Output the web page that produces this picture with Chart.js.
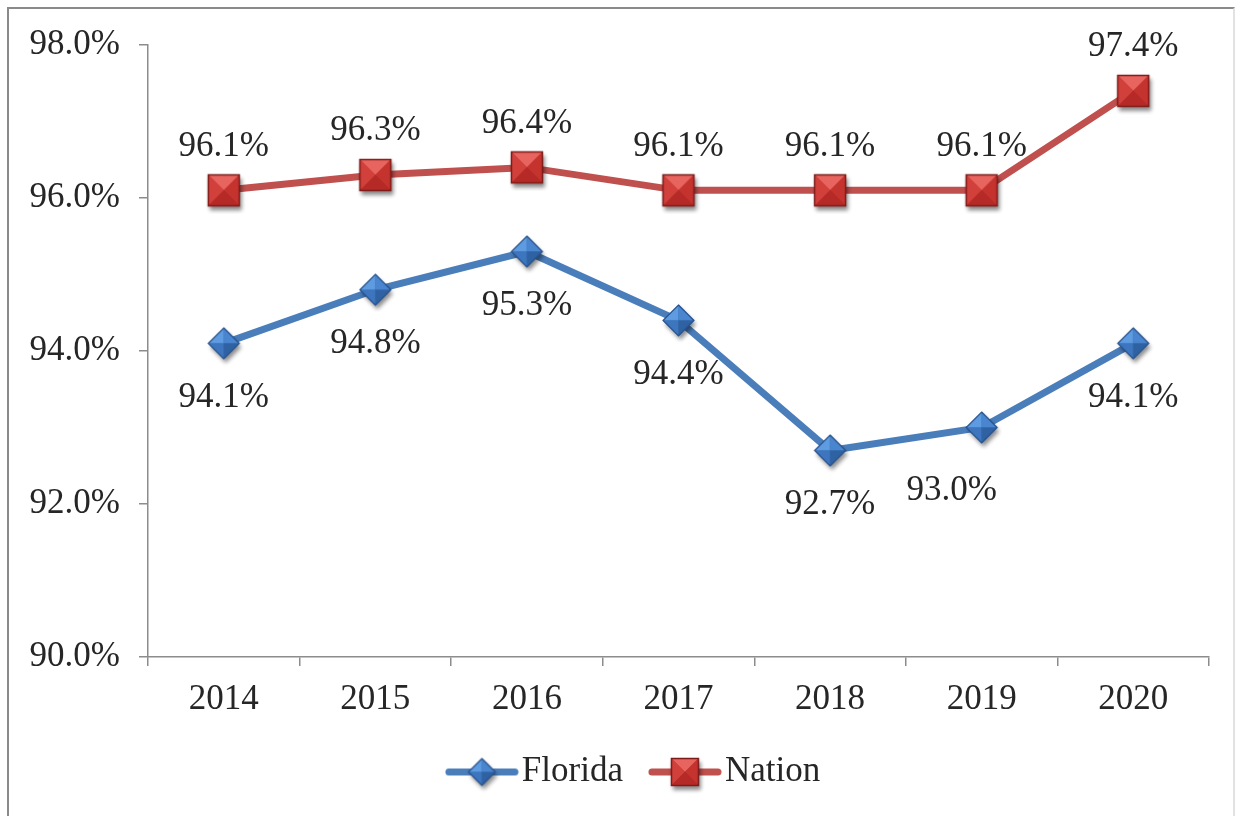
<!DOCTYPE html>
<html>
<head>
<meta charset="utf-8">
<script src="https://cdn.jsdelivr.net/npm/chart.js@4.4.1/dist/chart.umd.min.js"></script>
<style>
    html, body { margin: 0; padding: 0; background: #fff; }
    #wrap { position: relative; width: 1241px; height: 816px; overflow: hidden; }
    #frame {
        position: absolute; left: 7px; top: 7px; width: 1228px; height: 830px;
        border: 2px solid #8a8a8a; border-right-color: #e2e2e2; box-sizing: border-box;
    }
    #chart { position: absolute; left: 0; top: 0; }
</style>
</head>
<body>
<div id="wrap">
    <div id="frame"></div>
    <canvas id="chart" width="1241" height="816"></canvas>
</div>
<script>
// data
const years = ['2014', '2015', '2016', '2017', '2018', '2019', '2020'];
const florida = [94.1, 94.8, 95.3, 94.4, 92.7, 93.0, 94.1];
const nation = [96.1, 96.3, 96.4, 96.1, 96.1, 96.1, 97.4];
const yTicks = [90, 92, 94, 96, 98];

const FONT = '"Liberation Serif", "Times New Roman", serif';
const TEXT = '#262626';
const BLUE = '#4a7ebb';
const RED = '#c0504d';

// beveled marker images, like the old office charts
function makeSquare(size) {
    const pad = 8;
    const c = document.createElement('canvas');
    c.width = c.height = size + pad * 2;
    const g = c.getContext('2d');
    const x0 = pad, y0 = pad, x1 = pad + size, y1 = pad + size;
    const cx = pad + size / 2, cy = pad + size / 2;
    g.save();
    g.shadowColor = 'rgba(0,0,0,0.45)';
    g.shadowBlur = 4;
    g.shadowOffsetX = 2;
    g.shadowOffsetY = 4;
    g.fillStyle = '#a82421';
    g.fillRect(x0, y0, size, size);
    g.restore();
    const tri = (pts, col) => {
        g.beginPath();
        g.moveTo(pts[0], pts[1]);
        g.lineTo(pts[2], pts[3]);
        g.lineTo(pts[4], pts[5]);
        g.closePath();
        g.fillStyle = col;
        g.fill();
    };
    tri([x0, y0, x1, y0, cx, cy], '#e8645f');
    tri([x0, y0, x0, y1, cx, cy], '#d2403b');
    tri([x1, y0, x1, y1, cx, cy], '#c5332f');
    tri([x0, y1, x1, y1, cx, cy], '#b52a26');
    g.strokeStyle = '#7d1b19';
    g.lineWidth = 1.5;
    g.strokeRect(x0 + 0.5, y0 + 0.5, size - 1, size - 1);
    return c;
}

function makeDiamond(size) {
    const pad = 8;
    const c = document.createElement('canvas');
    c.width = c.height = size + pad * 2;
    const g = c.getContext('2d');
    const cx = pad + size / 2, cy = pad + size / 2, r = size / 2;
    const path = () => {
        g.beginPath();
        g.moveTo(cx, cy - r);
        g.lineTo(cx + r, cy);
        g.lineTo(cx, cy + r);
        g.lineTo(cx - r, cy);
        g.closePath();
    };
    g.save();
    g.shadowColor = 'rgba(0,0,0,0.45)';
    g.shadowBlur = 4;
    g.shadowOffsetX = 2;
    g.shadowOffsetY = 4;
    path();
    g.fillStyle = '#3569a8';
    g.fill();
    g.restore();
    const tri = (ax, ay, bx, by, col) => {
        g.beginPath();
        g.moveTo(ax, ay);
        g.lineTo(bx, by);
        g.lineTo(cx, cy);
        g.closePath();
        g.fillStyle = col;
        g.fill();
    };
    tri(cx - r, cy, cx, cy - r, '#5f9be0');
    tri(cx, cy - r, cx + r, cy, '#4a86cf');
    tri(cx - r, cy, cx, cy + r, '#3d76be');
    tri(cx, cy + r, cx + r, cy, '#2f62a3');
    path();
    g.strokeStyle = '#28508a';
    g.lineWidth = 1.2;
    g.stroke();
    return c;
}

function makeLegendIcon(color, marker) {
    const w = 74, h = marker.height;
    const c = document.createElement('canvas');
    c.width = w;
    c.height = h;
    const g = c.getContext('2d');
    g.strokeStyle = color;
    g.lineWidth = 7;
    g.lineCap = 'round';
    g.beginPath();
    g.moveTo(4, h / 2);
    g.lineTo(w - 4, h / 2);
    g.stroke();
    g.drawImage(marker, (w - marker.width) / 2, 0);
    return c;
}

const squareImg = makeSquare(32);
const diamondImg = makeDiamond(31);
const legendIcons = [makeLegendIcon(BLUE, makeDiamond(27)), makeLegendIcon(RED, makeSquare(28))];

// label placement per series (offsets from the point)
const labelPlacement = [
    { dy: 54, nudge: { 5: [-30, 9] } },
    { dy: -44, nudge: {} }
];

const pointLabels = {
    id: 'pointLabels',
    afterDatasetsDraw(chart) {
        const ctx = chart.ctx;
        ctx.save();
        ctx.font = '35px ' + FONT;
        ctx.fillStyle = TEXT;
        ctx.textAlign = 'center';
        ctx.textBaseline = 'middle';
        chart.data.datasets.forEach((ds, i) => {
            const meta = chart.getDatasetMeta(i);
            const place = labelPlacement[i];
            meta.data.forEach((pt, j) => {
                const n = place.nudge[j] || [0, 0];
                ctx.fillText(ds.data[j].toFixed(1) + '%', pt.x + n[0], pt.y + place.dy + n[1]);
            });
        });
        ctx.restore();
    }
};

// legend below the axis: icon, small gap, name; items spaced apart
const bottomLegend = {
    id: 'bottomLegend',
    afterDraw(chart) {
        const ctx = chart.ctx;
        ctx.save();
        ctx.font = '35px ' + FONT;
        ctx.fillStyle = TEXT;
        ctx.textBaseline = 'middle';
        const names = chart.data.datasets.map(ds => ds.label);
        const parts = names.map((n, i) => legendIcons[i].width + 3 + ctx.measureText(n).width);
        const total = parts.reduce((a, b) => a + b, 0) + 25 * (names.length - 1);
        let x = chart.width / 2 + 12 - total / 2;
        const y = chart.chartArea.bottom + 115;
        names.forEach((n, i) => {
            const icon = legendIcons[i];
            ctx.drawImage(icon, x, y - icon.height / 2);
            ctx.fillText(n, x + icon.width + 3, y);
            x += parts[i] + 25;
        });
        ctx.restore();
    }
};

const axisGrey = '#8c8c8c';

new Chart(document.getElementById('chart'), {
    type: 'line',
    data: {
        labels: years,
        datasets: [
            {
                label: 'Florida',
                data: florida,
                borderColor: BLUE,
                borderWidth: 7,
                pointStyle: diamondImg,
                pointRadius: 16,
                tension: 0
            },
            {
                label: 'Nation',
                data: nation,
                borderColor: RED,
                borderWidth: 7,
                pointStyle: squareImg,
                pointRadius: 16,
                tension: 0
            }
        ]
    },
    options: {
        responsive: false,
        animation: false,
        events: [],
        layout: { padding: { left: 10, top: 45, right: 32, bottom: 71 } },
        plugins: {
            tooltip: { enabled: false },
            legend: { display: false }
        },
        scales: {
            x: {
                offset: true,
                grid: { offset: true, drawOnChartArea: false, tickLength: 9, color: axisGrey, lineWidth: 1.5 },
                border: { color: axisGrey, width: 1.5 },
                ticks: { color: TEXT, padding: 13, font: { family: FONT, size: 35 } },
                afterFit: (s) => { s.height = 88; }
            },
            y: {
                min: 90,
                max: 98,
                afterBuildTicks: (s) => { s.ticks = yTicks.map(v => ({ value: v })); },
                grid: { drawOnChartArea: false, tickLength: 9, color: axisGrey, lineWidth: 1.5 },
                border: { color: axisGrey, width: 1.5 },
                ticks: {
                    color: TEXT,
                    padding: 19,
                    font: { family: FONT, size: 35 },
                    callback: (v) => v.toFixed(1) + '%'
                },
                afterFit: (s) => { s.width = 138; }
            }
        }
    },
    plugins: [pointLabels, bottomLegend]
});
</script>
</body>
</html>
